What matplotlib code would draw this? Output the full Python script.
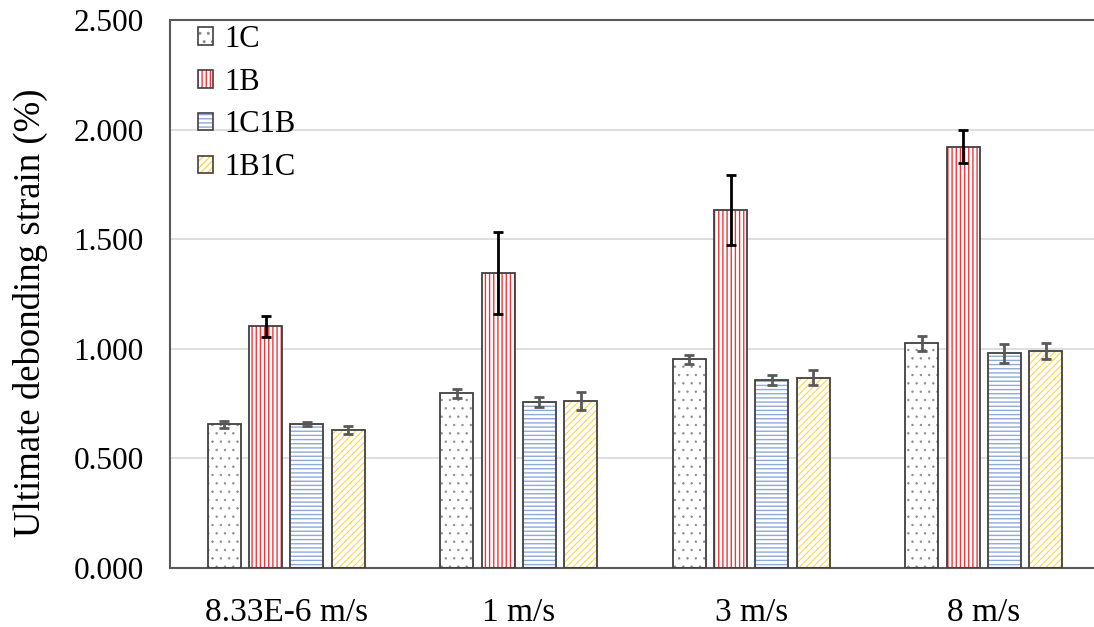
import matplotlib
matplotlib.use('Agg')
import matplotlib.pyplot as plt
from matplotlib.patches import Patch
import numpy as np

categories = ['8.33E-6 m/s', '1 m/s', '3 m/s', '8 m/s']
series = ['1C', '1B', '1C1B', '1B1C']
val_1C = [0.655, 0.797, 0.952, 1.025]
err_1C = [0.016, 0.020, 0.020, 0.035]
val_1B = [1.103, 1.347, 1.633, 1.922]
err_1B = [0.047, 0.187, 0.160, 0.076]
val_1C1B = [0.657, 0.759, 0.858, 0.979]
err_1C1B = [0.010, 0.023, 0.022, 0.043]
val_1B1C = [0.630, 0.762, 0.868, 0.990]
err_1B1C = [0.019, 0.040, 0.035, 0.038]
yticks = [0.0, 0.5, 1.0, 1.5, 2.0, 2.5]
ytick_labels = ['0.000', '0.500', '1.000', '1.500', '2.000', '2.500']

values = [val_1C, val_1B, val_1C1B, val_1B1C]
errors = [err_1C, err_1B, err_1C1B, err_1B1C]
hatches = ['..', '||||', '----', '/////']
hatch_colors = ['#8c8c8c', '#e8383d', '#8eaadb', '#ffd54f']
hatch_lw = [0.5, 1.0, 1.0, 0.8]
err_colors = ['#595959', '#000000', '#595959', '#595959']
edge = '#404040'

plt.rcParams['font.family'] = ['Liberation Serif', 'DejaVu Serif']

fig = plt.figure(figsize=(10.94, 6.27), dpi=100)
ax = fig.add_axes([170 / 1094, 1 - 568 / 627, 930 / 1094, 548 / 627])

x = np.arange(len(categories))
step = 0.178
width = 0.142
handles = []
for i, (s, v, e) in enumerate(zip(series, values, errors)):
    pos = x + (i - 1.5) * step
    with plt.rc_context({'hatch.linewidth': hatch_lw[i]}):
        ax.bar(pos, v, width, color='white', edgecolor=hatch_colors[i], hatch=hatches[i],
               linewidth=0, zorder=2)
        ph = Patch(facecolor='white', edgecolor=hatch_colors[i], hatch=hatches[i], linewidth=0)
    ax.bar(pos, v, width, color='none', edgecolor=edge, linewidth=1.3, zorder=3)
    ax.errorbar(pos, v, yerr=e, fmt='none', ecolor=err_colors[i], elinewidth=2.0,
                capsize=3.5, capthick=2.0, zorder=4)
    pe = Patch(facecolor='none', edgecolor=edge, linewidth=1.2)
    handles.append((ph, pe))

ax.set_xlim(-0.5, 3.5)
ax.set_ylim(0, 2.5)
ax.set_yticks(yticks)
ax.set_yticklabels(ytick_labels, fontsize=22.5)
ax.set_xticks(x)
ax.set_xticklabels(categories, fontsize=24)
ax.tick_params(axis='both', length=0)
ax.tick_params(axis='y', pad=19)
ax.tick_params(axis='x', pad=21)
ax.set_ylabel('Ultimate debonding strain (%)', fontsize=26.5)
ax.yaxis.set_label_coords(-0.131, 0.465)

ax.grid(axis='y', color='#d9d9d9', linewidth=1.2)
ax.set_axisbelow(True)
for sp in ['left', 'top', 'bottom']:
    ax.spines[sp].set_color('#595959')
    ax.spines[sp].set_linewidth(1.5)
ax.spines['right'].set_visible(False)

ax.legend(handles, series, loc='upper left', bbox_to_anchor=(198 / 1094, 1 - 25 / 627),
          bbox_transform=fig.transFigure, frameon=False, fontsize=22,
          handlelength=0.5, handleheight=0.5, handletextpad=0.35, labelspacing=0.45,
          borderpad=0.0, borderaxespad=0.0)

fig.savefig('out.png', dpi=100)
